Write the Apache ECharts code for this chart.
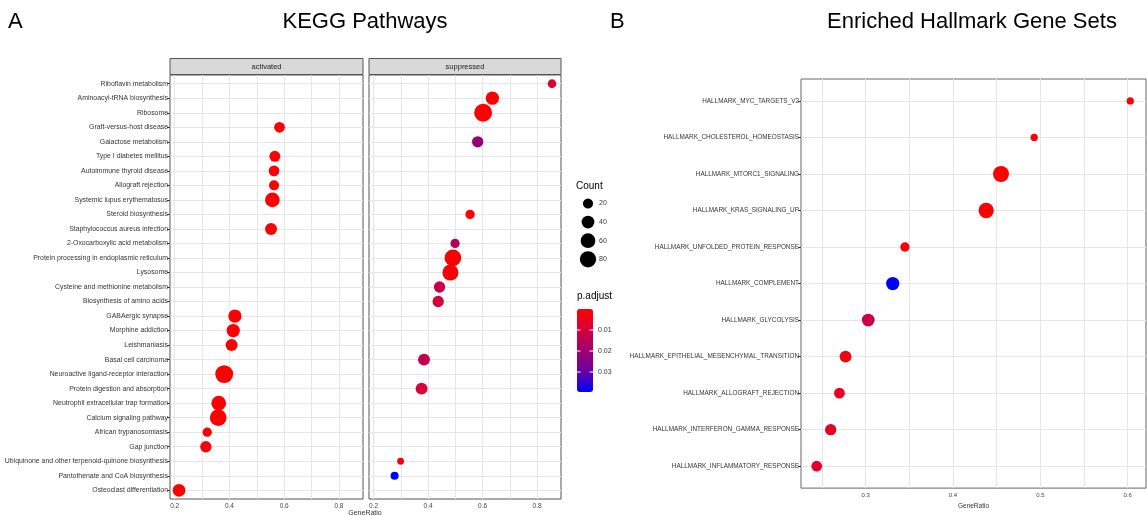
<!DOCTYPE html>
<html>
<head>
<meta charset="utf-8">
<title>KEGG Pathways / Enriched Hallmark Gene Sets</title>
<script src="https://cdn.jsdelivr.net/npm/echarts@6/dist/echarts.min.js"></script>
<style>
  html, body { margin: 0; padding: 0; background: #fff; }
  #chart { width: 1147px; height: 515px; }
</style>
</head>
<body>
<div id="chart"></div>
<script>
// panel A: KEGG pathways, top to bottom
const keggPathways = [
  "Riboflavin metabolism", "Aminoacyl-tRNA biosynthesis", "Ribosome", "Graft-versus-host disease",
  "Galactose metabolism", "Type I diabetes mellitus", "Autoimmune thyroid disease", "Allograft rejection",
  "Systemic lupus erythematosus", "Steroid biosynthesis", "Staphylococcus aureus infection",
  "2-Oxocarboxylic acid metabolism", "Protein processing in endoplasmic reticulum", "Lysosome",
  "Cysteine and methionine metabolism", "Biosynthesis of amino acids", "GABAergic synapse",
  "Morphine addiction", "Leishmaniasis", "Basal cell carcinoma", "Neuroactive ligand-receptor interaction",
  "Protein digestion and absorption", "Neutrophil extracellular trap formation", "Calcium signaling pathway",
  "African trypanosomiasis", "Gap junction", "Ubiquinone and other terpenoid-quinone biosynthesis",
  "Pantothenate and CoA biosynthesis", "Osteoclast differentiation"
];
const keggGroup = [
  "suppressed", "suppressed", "suppressed", "activated", "suppressed", "activated", "activated", "activated",
  "activated", "suppressed", "activated", "suppressed", "suppressed", "suppressed", "suppressed", "suppressed",
  "activated", "activated", "activated", "suppressed", "activated", "suppressed", "activated", "activated",
  "activated", "activated", "suppressed", "suppressed", "activated"
];
const keggRatio = [
  0.855, 0.636, 0.602, 0.583, 0.582, 0.566, 0.563, 0.563, 0.557, 0.554, 0.552, 0.499, 0.491, 0.482,
  0.442, 0.437, 0.420, 0.414, 0.408, 0.385, 0.381, 0.376, 0.361, 0.359, 0.319, 0.314, 0.299, 0.277, 0.216
];
const keggCount = [
  18, 58, 123, 33, 38, 35, 33, 27, 75, 22, 44, 22, 103, 93, 38, 38, 58, 58, 44, 44, 123, 44, 75, 103, 22, 38, 8, 14, 52
];
const keggPadj = [
  0.008, 0.0003, 0.0001, 0.0006, 0.021, 0.0004, 0.0005, 0.0004, 0.0002, 0.001, 0.0003, 0.016, 0.0004, 0.001,
  0.013, 0.010, 0.0008, 0.0007, 0.0009, 0.014, 0.0001, 0.009, 0.0002, 0.0001, 0.0012, 0.0015, 0.003, 0.0395, 0.0004
];

// panel B: hallmark gene sets, top to bottom
const hallmarkSets = [
  "HALLMARK_MYC_TARGETS_V2", "HALLMARK_CHOLESTEROL_HOMEOSTASIS", "HALLMARK_MTORC1_SIGNALING",
  "HALLMARK_KRAS_SIGNALING_UP", "HALLMARK_UNFOLDED_PROTEIN_RESPONSE", "HALLMARK_COMPLEMENT",
  "HALLMARK_GLYCOLYSIS", "HALLMARK_EPITHELIAL_MESENCHYMAL_TRANSITION", "HALLMARK_ALLOGRAFT_REJECTION",
  "HALLMARK_INTERFERON_GAMMA_RESPONSE", "HALLMARK_INFLAMMATORY_RESPONSE"
];
const hallmarkRatio = [0.603, 0.493, 0.455, 0.438, 0.345, 0.331, 0.303, 0.277, 0.270, 0.260, 0.244];
const hallmarkCount = [10, 10, 93, 83, 22, 58, 52, 44, 33, 38, 33];
const hallmarkPadj = [0.0002, 0.0005, 0.0001, 0.0003, 0.002, 0.045, 0.014, 0.003, 0.006, 0.007, 0.008];

// ticks and legend breaks
const keggTickLabels = [0.2, 0.4, 0.6, 0.8];
const keggGridLines = [0.2, 0.3, 0.4, 0.5, 0.6, 0.7, 0.8];
const hallmarkTickLabels = [0.3, 0.4, 0.5, 0.6];
const hallmarkGridLines = [0.25, 0.3, 0.35, 0.4, 0.45, 0.5, 0.55, 0.6];
const countBreaks = [20, 40, 60, 80];
const padjBreaks = [0.01, 0.02, 0.03];
const padjMax = 0.0395;

const FONT = "Liberation Sans";
const padjColors = ["#ff0000", "#d8003c", "#a0006e", "#6a00a0", "#0000ff"];

function dotSize(count) {
  return 3 + 1.35 * Math.sqrt(count);
}

function rowsFor(group) {
  const out = [];
  keggPathways.forEach((name, i) => {
    if (keggGroup[i] === group) out.push([keggRatio[i], i, keggCount[i], keggPadj[i], name]);
  });
  return out;
}

function termAxis(gridIndex, names, showLabels, fontSize) {
  const idx = names.map((_, i) => i);
  return {
    type: "value", gridIndex: gridIndex, inverse: true,
    min: -0.6, max: names.length - 0.4,
    axisLine: { show: false },
    axisTick: { show: showLabels, customValues: idx, length: 3, lineStyle: { color: "#333" } },
    axisLabel: {
      show: showLabels, customValues: idx, margin: 2,
      formatter: v => names[Math.round(v)],
      fontFamily: FONT, fontSize: fontSize, color: "#333"
    },
    splitLine: { show: true, lineStyle: { color: "#e6e6e6", width: 1 } }
  };
}

function ratioAxis(gridIndex, min, max, lines, labels, fontSize) {
  return {
    type: "value", gridIndex: gridIndex, min: min, max: max,
    axisLine: { show: false },
    axisTick: { show: false, customValues: lines },
    axisLabel: {
      customValues: labels, margin: 4, formatter: v => v.toFixed(1),
      fontFamily: FONT, fontSize: fontSize, color: "#444"
    },
    splitLine: { show: true, lineStyle: { color: "#e6e6e6", width: 1 } }
  };
}

const chart = echarts.init(document.getElementById("chart"));

// p.adjust colour bar position
const barTop = 309, barHeight = 83, barLeft = 577, barWidth = 16;
const barY = p => barTop + p / padjMax * barHeight;

const graphics = [
  { type: "text", x: 8, y: 22, style: { text: "A", font: "22px " + FONT, fill: "#000", verticalAlign: "middle" } },
  { type: "text", x: 365, y: 22, style: { text: "KEGG Pathways", font: "22px " + FONT, fill: "#000", align: "center", verticalAlign: "middle" } },
  { type: "text", x: 610, y: 22, style: { text: "B", font: "22px " + FONT, fill: "#000", verticalAlign: "middle" } },
  { type: "text", x: 972, y: 22, style: { text: "Enriched Hallmark Gene Sets", font: "22px " + FONT, fill: "#000", align: "center", verticalAlign: "middle" } },
  // facet strips
  { type: "rect", shape: { x: 170, y: 58.5, width: 193, height: 16 }, style: { fill: "#d9d9d9", stroke: "#555", lineWidth: 1 } },
  { type: "text", x: 266.5, y: 66.5, style: { text: "activated", font: "7.5px " + FONT, fill: "#222", align: "center", verticalAlign: "middle" } },
  { type: "rect", shape: { x: 369, y: 58.5, width: 192, height: 16 }, style: { fill: "#d9d9d9", stroke: "#555", lineWidth: 1 } },
  { type: "text", x: 465, y: 66.5, style: { text: "suppressed", font: "7.5px " + FONT, fill: "#222", align: "center", verticalAlign: "middle" } },
  { type: "text", x: 365, y: 513, style: { text: "GeneRatio", font: "7px " + FONT, fill: "#333", align: "center", verticalAlign: "middle" } },
  // legends
  { type: "text", x: 576, y: 186, style: { text: "Count", font: "10px " + FONT, fill: "#000", verticalAlign: "middle" } },
  { type: "text", x: 577, y: 296, style: { text: "p.adjust", font: "10px " + FONT, fill: "#000", verticalAlign: "middle" } }
];
countBreaks.forEach((c, i) => {
  const y = 203.5 + i * 18.6;
  graphics.push({ type: "circle", shape: { cx: 588, cy: y, r: dotSize(c) / 2 + 0.6 }, style: { fill: "#000" } });
  graphics.push({ type: "text", x: 599, y: y, style: { text: String(c), font: "7px " + FONT, fill: "#333", verticalAlign: "middle" } });
});
padjBreaks.forEach(p => {
  const y = barY(p);
  graphics.push({ type: "line", shape: { x1: barLeft, y1: y, x2: barLeft + 3.5, y2: y }, style: { stroke: "#fff", lineWidth: 1 }, z: 200 });
  graphics.push({ type: "line", shape: { x1: barLeft + barWidth - 3.5, y1: y, x2: barLeft + barWidth, y2: y }, style: { stroke: "#fff", lineWidth: 1 }, z: 200 });
  graphics.push({ type: "text", x: 598, y: y, style: { text: p.toFixed(2), font: "7px " + FONT, fill: "#333", verticalAlign: "middle" } });
});

const scatterBase = { type: "scatter", symbol: "circle", symbolSize: d => dotSize(d[2]), itemStyle: { opacity: 1 }, z: 3 };

chart.setOption({
  animation: false,
  backgroundColor: "#fff",
  grid: [
    { left: 170, top: 75, width: 193, height: 424, show: true, borderColor: "#555", borderWidth: 1 },
    { left: 369, top: 75, width: 192, height: 424, show: true, borderColor: "#555", borderWidth: 1 },
    { left: 801, top: 79, width: 345, height: 410, show: true, borderColor: "#666", borderWidth: 1 }
  ],
  xAxis: [
    ratioAxis(0, 0.183, 0.888, keggGridLines, keggTickLabels, 6.5),
    ratioAxis(1, 0.183, 0.888, keggGridLines, keggTickLabels, 6.5),
    Object.assign(ratioAxis(2, 0.226, 0.621, hallmarkGridLines, hallmarkTickLabels, 6), {
      name: "GeneRatio", nameLocation: "middle", nameGap: 14,
      nameTextStyle: { fontFamily: FONT, fontSize: 6.5, color: "#333" }
    })
  ],
  yAxis: [
    termAxis(0, keggPathways, true, 6.9),
    termAxis(1, keggPathways, false, 6.9),
    termAxis(2, hallmarkSets, true, 6.4)
  ],
  visualMap: [
    {
      type: "continuous", seriesIndex: [0, 1], dimension: 3, min: 0, max: padjMax,
      inRange: { color: padjColors },
      show: true, inverse: true, calculable: false, hoverLink: false, text: null,
      left: barLeft, top: barTop, itemWidth: barWidth, itemHeight: barHeight, padding: 0,
      textStyle: { fontSize: 1, color: "rgba(0,0,0,0)" }
    },
    {
      type: "continuous", seriesIndex: [2], dimension: 3, min: 0, max: 0.045,
      inRange: { color: padjColors }, show: false
    }
  ],
  series: [
    Object.assign({}, scatterBase, { name: "activated", xAxisIndex: 0, yAxisIndex: 0, data: rowsFor("activated") }),
    Object.assign({}, scatterBase, { name: "suppressed", xAxisIndex: 1, yAxisIndex: 1, data: rowsFor("suppressed") }),
    Object.assign({}, scatterBase, {
      name: "hallmark", xAxisIndex: 2, yAxisIndex: 2,
      data: hallmarkSets.map((s, i) => [hallmarkRatio[i], i, hallmarkCount[i], hallmarkPadj[i], s])
    })
  ],
  graphic: graphics
});
</script>
</body>
</html>
